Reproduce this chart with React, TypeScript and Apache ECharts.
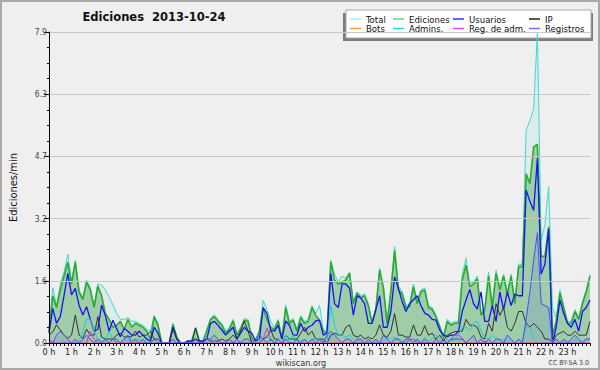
import React, { useEffect, useRef } from "react";
import * as echarts from "echarts";

const HOUR_LABELS = ["0 h","1 h","2 h","3 h","4 h","5 h","6 h","7 h","8 h","9 h","10 h","11 h","12 h","13 h","14 h","15 h","16 h","17 h","18 h","19 h","20 h","21 h","22 h","23 h"];
// 10-minute slots from 0:00 to 24:00
const SLOTS = Array.from({ length: 145 }, (_, i) => `${Math.floor(i / 6)}:${(i % 6) * 10}`);

const Y_TICKS = ["0.0", "1.6", "3.2", "4.7", "6.3", "7.9"];

const TOTAL = [
  0.35,1.4,0.95,1.5,1.8,2.25, 1.6,2.1,1.35,1.15,1.6,1.4, 0.95,1.5,1.47,1.35,1.17,0.97,
  0.75,0.6,0.6,0.65,0.55,0.55, 0.5,0.45,0.35,0.3,0.7,0.5, 0,0,0,0.5,0.15,0,
  0,0.05,0.05,0.4,0.05,0.05, 0.35,0.62,0.72,0.6,0.5,0.3, 0.4,0.6,0.25,0.4,0.62,0.6,
  0.15,0.1,0.3,1.09,0.85,0.55, 0.4,0.6,0.15,0.97,0.55,0.62, 0.35,0.7,0.55,0.6,0.95,0.75,
  0.96,0.35,0.3,2.1,1.75,1.55, 1.7,1.65,1.8,1.05,1.3,1.2, 1.25,1.0,0.55,0.9,1.9,1.45,
  0.55,1.4,2.45,1.45,1.3,0.95, 1.0,1.5,1.05,1.35,1.4,0.95, 0.9,0.7,0.45,0.2,0.6,0.5,
  0.55,0.55,1.75,2.15,1.5,1.55, 1.7,0.8,0.9,1.8,0.95,1.85, 1.4,1.75,1.3,1.75,1.05,2.0,
  2.0,5.4,5.65,5.95,7.9,2.6, 3.0,3.97,0.9,0.65,1.35,0.95, 0.55,0.55,0.85,0.65,1.05,1.35,
  1.75
];
const EDICIONES = [
  0.3,1.2,0.9,1.35,1.7,2.05, 1.5,2.05,1.3,1.1,1.55,1.35, 0.9,1.45,1.2,0.75,0.6,0.4,
  0.45,0.55,0.35,0.6,0.4,0.5, 0.45,0.4,0.3,0.1,0.67,0.45, 0,0,0,0.47,0.15,0,
  0,0.05,0.05,0.38,0.05,0.05, 0.3,0.6,0.67,0.55,0.45,0.25, 0.35,0.56,0.2,0.35,0.58,0.55,
  0.1,0.05,0.3,0.9,0.6,0.4, 0.35,0.56,0.1,0.9,0.5,0.58, 0.3,0.65,0.5,0.55,0.9,0.7,
  0.58,0.3,0.25,2.06,1.6,1.5, 1.55,1.6,1.77,1.0,1.27,1.15, 1.2,0.95,0.5,0.85,1.85,1.4,
  0.5,1.3,2.35,1.35,1.25,0.9, 0.92,1.43,1.0,1.3,1.35,0.9, 0.85,0.67,0.4,0.13,0.55,0.45,
  0.5,0.5,1.6,1.98,1.43,1.5, 1.63,0.71,0.85,1.7,0.9,1.77, 1.35,1.7,1.24,1.7,1.0,1.94,
  1.94,4.3,4.05,4.98,5.05,2.2, 2.2,2.95,0.2,0.55,1.27,0.9, 0.5,0.5,0.8,0.6,1.0,1.3,
  1.7
];
const USUARIOS = [
  0.25,0.88,0.5,0.67,1.2,1.77, 1.22,1.39,0.96,0.71,0.92,0.6, 0.3,0.35,0.96,0.7,0.3,0.58,
  0.37,0.16,0.37,0.3,0.2,0.2, 0.3,0.2,0.1,0.05,0.4,0.25, 0,0,0,0.4,0.1,0,
  0,0.05,0.05,0.1,0.05,0.05, 0.1,0.5,0.55,0.45,0.33,0.2, 0.3,0.4,0.1,0.25,0.4,0.3,
  0.25,0.05,0.1,0.9,0.76,0.33, 0.3,0.45,0.1,0.56,0.45,0.2, 0.2,0.5,0.3,0.4,0.45,0.56,
  0.58,0.2,0.25,1.77,1.0,0.9, 1.5,1.5,1.39,0.71,1.2,1.14, 1.0,0.5,0.5,0.85,1.2,0.4,
  0.4,0.8,1.68,1.39,1.05,0.8, 1.0,1.1,1.2,0.95,0.76,0.71, 0.6,0.58,0.33,0.2,0.16,0.2,
  0.2,0.3,0.8,1.09,1.36,1.0, 0.86,1.3,0.55,0.55,0.95,0.55, 1.3,0.85,1.3,0.95,1.24,1.2,
  1.2,3.88,3.6,3.37,4.69,1.75, 2.0,2.9,0,0.4,1.09,0.75, 0.5,0.4,0.6,0.3,0.8,0.9,
  1.09
];
const IP = [
  0.2,0.28,0.46,0.33,0.2,0.12, 0.2,0.71,0.2,0.12,0.35,0.2, 0.2,0.67,0.15,0.1,0.1,0.1,
  0.2,0.25,0.15,0.16,0.16,0.3, 0.15,0.2,0.2,0.29,0.1,0.1, 0,0,0,0.35,0.1,0,
  0,0,0,0.38,0.05,0, 0.1,0.05,0.05,0.05,0.1,0.05, 0.1,0.2,0.1,0.3,0.56,0.3,
  0,0,0,0.1,0.15,0.33, 0.1,0.1,0,0.2,0.1,0.1, 0.1,0.25,0.4,0.2,0.3,0.1,
  0.1,0.1,0,0.2,0.25,0.2, 0.2,0.4,0.46,0.2,0.15,0.2, 0.1,0.15,0.1,0.2,0.46,0.2,
  0.15,0.3,0.75,0.2,0.2,0.15, 0.15,0.46,0.2,0.2,0.44,0.2, 0.25,0.1,0.2,0.05,0.2,0.25,
  0.29,0.29,0.3,0.6,0.45,0.45, 0.4,0.15,0.1,0.5,0.3,1.0, 0.7,0.9,0.4,0.3,0.5,0.8,
  0.8,0.5,0.4,0.5,0.4,0.3, 0.1,0.1,0,0.2,0.25,0.3, 0.2,0.2,0.3,0.2,0.2,0.2,
  0.55
];
const BOTS = [
  0,0,0,0,0,0, 0,0,0,0,0,0, 0,0,0,0,0,0, 0,0,0,0,0,0, 0,0,0,0,0,0, 0,0,0,0,0,0,
  0,0,0,0,0,0, 0,0,0,0,0,0, 0,0,0,0,0,0, 0,0,0,0,0,0, 0,0,0,0,0,0, 0,0,0,0,0,0,
  0,0,0,0,0,0, 0,0,0,0,0,0, 0,0,0,0,0,0, 0,0,0,0,0,0, 0,0,0,0,0,0, 0,0,0,0,0,0,
  0,0,0,0,0,0, 0,0,0,0,0,0, 0,0,0,0,0,0, 0,0,0,0,0,0, 0,0,0,0,0,0, 0,0,0,0,0,0,
  0
];
const ADMINS = [
  0,0.05,0,0,0.05,0, 0,0,0.05,0.3,0.6,0.6, 0.3,0.1,0.05,0.05,0.3,0.1,
  0.05,0,0.1,0.05,0.1,0.05, 0.1,0.05,0,0,0,0, 0,0,0,0,0,0,
  0,0,0,0,0,0, 0,0.1,0.05,0,0,0, 0,0.05,0,0.05,0,0,
  0,0,0.1,0.1,0.2,0.05, 0.1,0,0,0.2,0.05,0.2, 0.05,0.05,0.1,0,0.1,0.1,
  0.1,0.05,0,0.95,0.45,0.2, 0.2,0.15,0.2,0.1,0.05,0.05, 0,0.05,0,0.05,0,0.05,
  0.15,0.1,0.15,0.1,0.05,0, 0.05,0.1,0.05,0,0.15,0.05, 0.1,0.2,0.05,0,0.1,0.05,
  0.1,0.2,0.4,0.4,0.3,0.5, 0.55,0.3,0.15,0.1,0.2,0.1, 0.05,0.1,0,0.1,0,0.1,
  0.05,0.42,0.4,0.1,0,0, 0,0,0.05,0.1,0,0.05, 0.05,0,0.1,0,0.05,0.1,
  0.1
];
const REG_ADM = [
  0,0,0,0,0,0, 0,0,0,0,0,0.3, 0.1,0,0,0,0,0.1,
  0,0,0,0,0,0, 0,0,0,0,0.1,0, 0,0,0,0,0,0,
  0,0,0,0,0,0, 0,0,0,0,0,0, 0,0,0,0,0,0,
  0,0,0,0.1,0.38,0.1, 0,0,0,0,0,0, 0,0,0,0,0,0,
  0,0,0,0,0,0, 0,0,0,0,0,0, 0,0,0,0,0,0,
  0,0,0,0,0,0, 0.1,0.1,0,0,0,0, 0,0,0,0,0,0.1,
  0.2,0.2,0.12,0,0,0, 0,0,0.05,0,0,0, 0,0,0,0,0,0,
  0,0,0,0,0,0, 0,0,0,0,0,0, 0,0,0,0,0,0,
  0
];
const REGISTROS = [
  0.1,0,0.2,0.3,0.2,0.1, 0,0.1,0,0.1,0.2,0.1, 0,0.1,0,0.1,0,0.1,
  0.1,0,0.1,0.2,0,0.1, 0,0.1,0,0,0.1,0, 0,0,0,0.1,0,0,
  0,0,0,0.1,0,0, 0.1,0.1,0.2,0.1,0,0, 0.1,0,0.1,0,0.1,0.1,
  0,0.1,0.2,0.1,0,0.1, 0,0.1,0,0.1,0,0, 0.1,0,0.1,0,0.1,0,
  0.1,0,0.2,0.3,0.2,0.1, 0,0.1,0.1,0,0.1,0.1, 0,0.1,0,0.1,0,0.2,
  0.1,0,0.1,0.1,0,0.1, 0.1,0,0.1,0,0.1,0, 0,0.1,0,0.1,0,0.1,
  0.1,0.1,0.1,0,0.1,0.2, 0,0.1,0,0.1,0,0.1, 0.1,0,0.2,0.1,0,0.1,
  0,0.6,1.3,2.1,2.8,1.0, 0.95,0.9,0,0.1,0,0.1, 0,0.1,0.2,0.1,0,0.1,
  0.1
];

const FONT = "'DejaVu Sans Condensed', 'DejaVu Sans', sans-serif";

const SERIES_NAMES = ["Total", "Ediciones", "Usuarios", "IP", "Bots", "Admins.", "Reg. de adm.", "Registros"];
const SERIES_DATA = [TOTAL, EDICIONES, USUARIOS, IP, BOTS, ADMINS, REG_ADM, REGISTROS];
const LINE_COLORS = ["#3fd8d0", "#2fa82f", "#1414f0", "#333333", "#ffa030", "#22c8e0", "#d830d8", "#4b4bff"];
const LEGEND_COLORS = ["#a8eeee", "#77cc77", "#3030ff", "#222222", "#ffa030", "#30d0ee", "#ee40ee", "#7070ff"];

export default function App() {
  const ref = useRef<HTMLDivElement>(null);
  useEffect(() => {
    if (!ref.current) return;
    const chart = echarts.init(ref.current, undefined, { renderer: "svg" });

    const legendCols = [350, 393, 453, 529];
    const legendRows = [14, 23.5];

    const series: any[] = SERIES_NAMES.map((name, k) => {
      const s: any = {
        name,
        type: "line",
        data: SERIES_DATA[k],
        symbol: "none",
        color: LINE_COLORS[k],
        lineStyle: { width: k === 1 ? 1.6 : k === 2 ? 1.3 : 1, color: LINE_COLORS[k] },
        z: 2,
      };
      if (k === 0) s.areaStyle = { color: "rgba(64,210,205,0.14)" };
      if (k === 1) s.areaStyle = { color: "rgba(40,150,40,0.5)" };
      if (k === 7) s.areaStyle = { color: "rgba(70,70,255,0.16)" };
      return s;
    });

    const legends = SERIES_NAMES.map((name, k) => ({
      data: [{ name, itemStyle: { color: LEGEND_COLORS[k], borderWidth: 0 } }],
      left: legendCols[k % 4],
      top: legendRows[Math.floor(k / 4)],
      icon: "rect",
      itemWidth: 11,
      itemHeight: 1.5,
      padding: 0,
      selectedMode: false,
      z: 10,
      textStyle: { fontFamily: FONT, fontSize: 9.5, color: "#111", padding: [0, 0, 0, 0] },
    }));

    chart.setOption({
      animation: false,
      backgroundColor: "#efefef",
      textStyle: { fontFamily: FONT },
      grid: { left: 46, right: 10, top: 32, bottom: 27, containLabel: false },
      legend: legends,
      xAxis: {
        type: "category",
        data: SLOTS,
        boundaryGap: false,
        z: 10,
        axisLine: { show: true, lineStyle: { color: "#000", width: 1 } },
        axisTick: { show: true, interval: 0, length: 3, lineStyle: { color: "#000" } },
        axisLabel: {
          interval: (i: number) => i % 6 === 0 && i < 144,
          formatter: (_v: string, i: number) => HOUR_LABELS[Math.floor(i / 6)] ?? "",
          fontSize: 9,
          lineHeight: 9,
          color: "#222",
          margin: 4.5,
          fontFamily: FONT,
        },
        splitLine: { show: false },
      },
      yAxis: {
        type: "value",
        min: 0,
        max: 7.9,
        interval: 1.58,
        z: 10,
        name: "Ediciones/min",
        nameLocation: "middle",
        nameGap: 30,
        nameTextStyle: { fontFamily: FONT, fontSize: 11, color: "#111" },
        axisLine: { show: true, lineStyle: { color: "#000", width: 1 } },
        axisTick: { show: true, length: 5, lineStyle: { color: "#000" } },
        minorTick: { show: true, splitNumber: 4, length: 2, lineStyle: { color: "#000" } },
        axisLabel: {
          formatter: (v: number) => Y_TICKS[Math.round(v / 1.58)] ?? v.toFixed(1),
          fontSize: 8.5,
          lineHeight: 8,
          color: "#444",
          margin: 2,
          fontFamily: FONT,
        },
        splitLine: { show: true, lineStyle: { color: "#c8c8c8", width: 1 } },
      },
      graphic: [
        { type: "rect", z: -10, shape: { x: 1, y: 1, width: 598, height: 368 }, style: { fill: "none", stroke: "#a8a8a8", lineWidth: 2 } },
        { type: "rect", z: 0, shape: { x: 343, y: 13, width: 250, height: 28 }, style: { fill: "#7c7c7c" } },
        { type: "rect", z: 0, shape: { x: 346, y: 10, width: 245, height: 28 }, style: { fill: "#ffffff", stroke: "#aaaaaa", lineWidth: 1 } },
        { type: "text", z: 10, x: 154, y: 17, style: { text: "Ediciones  2013-10-24", font: "bold 11.5px 'DejaVu Sans', sans-serif", fill: "#111", textAlign: "center", textVerticalAlign: "middle" } },
        { type: "text", z: 10, x: 301, y: 363, style: { text: "wikiscan.org", font: `9px ${FONT}`, fill: "#333", textAlign: "center", textVerticalAlign: "middle" } },
        { type: "text", z: 10, x: 589, y: 363, style: { text: "CC BY-SA 3.0", font: `7px ${FONT}`, fill: "#444", textAlign: "right", textVerticalAlign: "middle" } },
      ],
      series,
    });
    return () => chart.dispose();
  }, []);
  return <div ref={ref} style={{ position: "fixed", left: 0, top: 0, width: 600, height: 370 }} />;
}
